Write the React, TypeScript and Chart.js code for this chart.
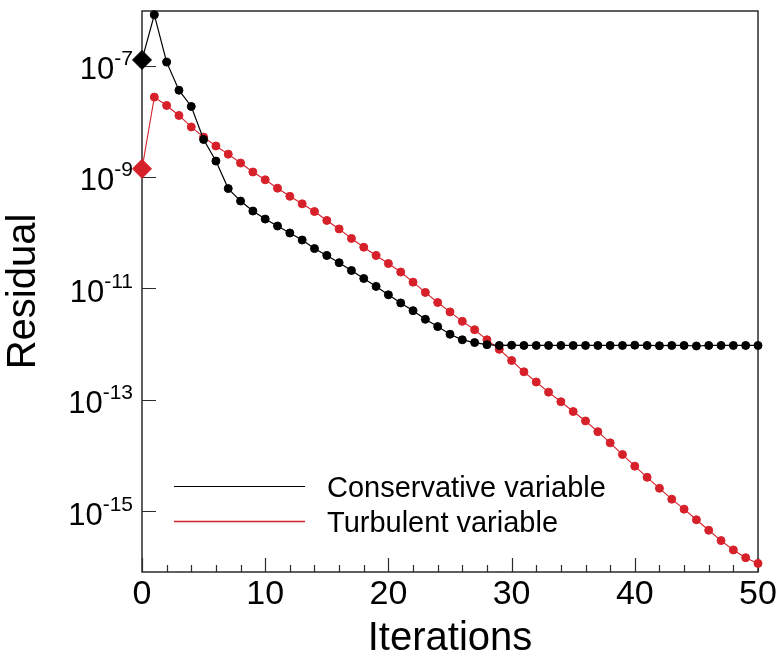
import React, { useEffect, useRef } from 'react';
import { Chart, registerables } from 'chart.js';

Chart.register(...registerables);

// ---- data ----
const iterations = [
  0, 1, 2, 3, 4, 5, 6, 7, 8, 9, 10, 11, 12, 13, 14, 15, 16, 17, 18, 19, 20,
  21, 22, 23, 24, 25, 26, 27, 28, 29, 30, 31, 32, 33, 34, 35, 36, 37, 38, 39, 40,
  41, 42, 43, 44, 45, 46, 47, 48, 49, 50,
];

const conservative = [
  1.26e-7, 8.1e-7, 1.15e-7, 3.6e-8, 1.84e-8, 4.7e-9, 1.93e-9, 6.2e-10, 3.7e-10, 2.45e-10,
  1.76e-10, 1.32e-10, 9.9e-11, 7.4e-11, 5.2e-11, 3.9e-11, 2.9e-11, 2.1e-11, 1.51e-11, 1.09e-11,
  7.7e-12, 5.5e-12, 4.0e-12, 2.8e-12, 2.07e-12, 1.51e-12, 1.2e-12, 1.07e-12, 9.8e-13,
  9.5e-13, 9.6e-13, 9.5e-13, 9.5e-13, 9.5e-13, 9.5e-13, 9.5e-13, 9.5e-13, 9.5e-13, 9.5e-13,
  9.5e-13, 9.6e-13, 9.5e-13, 9.4e-13, 9.5e-13, 9.5e-13, 9.3e-13, 9.5e-13, 9.5e-13, 9.5e-13,
  9.5e-13, 9.5e-13,
];

const turbulent = [
  1.4e-9, 2.71e-8, 1.92e-8, 1.27e-8, 7.9e-9, 5.2e-9, 3.6e-9, 2.57e-9, 1.78e-9, 1.23e-9,
  8.9e-10, 6.3e-10, 4.5e-10, 3.3e-10, 2.4e-10, 1.66e-10, 1.17e-10, 7.9e-11, 5.5e-11, 3.9e-11,
  2.8e-11, 1.97e-11, 1.3e-11, 8.5e-12, 5.6e-12, 3.8e-12, 2.57e-12, 1.82e-12, 1.2e-12, 8.1e-13,
  5.1e-13, 3.2e-13, 2.1e-13, 1.38e-13, 9.3e-14, 6.2e-14, 4.2e-14, 2.7e-14, 1.7e-14, 1.05e-14,
  6.5e-15, 4.1e-15, 2.6e-15, 1.66e-15, 1.1e-15, 7.1e-16, 4.6e-16, 3.0e-16, 2.04e-16, 1.48e-16,
  1.17e-16,
];

const seriesLabels = ['Conservative variable', 'Turbulent variable'];
const xMajorTicks = [0, 10, 20, 30, 40, 50];
const xMinorTicks = [2, 4, 6, 8, 12, 14, 16, 18, 22, 24, 26, 28, 32, 34, 36, 38, 42, 44, 46, 48];
const yTicks = [1e-7, 1e-9, 1e-11, 1e-13, 1e-15];
const xTitle = 'Iterations';
const yTitle = 'Residual';

// ---- style ----
const W = 779;
const H = 656;
const FONT = '"Liberation Sans", Arial, Helvetica, sans-serif';
const BLACK = '#000000';
const RED = '#d7212a';
const FRAME = '#2b2b2b';

const toPoints = (vals: number[]) => vals.map((v, i) => ({ x: iterations[i], y: v }));
const pointStyles = (vals: number[]) => vals.map((_, i) => (i === 0 ? 'rectRot' : 'circle'));
const pointRadii = (vals: number[]) => vals.map((_, i) => (i === 0 ? 9.5 : 4));

const decorPlugin = {
  id: 'decor',
  beforeDatasetsDraw(chart: any) {
    const { ctx, chartArea: a, scales } = chart;
    const xs = scales.x;
    const ys = scales.y;
    ctx.save();
    // frame
    ctx.strokeStyle = FRAME;
    ctx.lineWidth = 1.5;
    ctx.strokeRect(a.left, a.top, a.right - a.left, a.bottom - a.top);
    // ticks (inward)
    ctx.lineWidth = 1.2;
    ctx.beginPath();
    xMajorTicks.forEach((v) => {
      const px = Math.round(xs.getPixelForValue(v)) + 0.5;
      ctx.moveTo(px, a.bottom);
      ctx.lineTo(px, a.bottom - 14);
    });
    xMinorTicks.forEach((v) => {
      const px = Math.round(xs.getPixelForValue(v)) + 0.5;
      ctx.moveTo(px, a.bottom);
      ctx.lineTo(px, a.bottom - 7);
    });
    yTicks.forEach((v) => {
      const py = Math.round(ys.getPixelForValue(v)) + 0.5;
      ctx.moveTo(a.left, py);
      ctx.lineTo(a.left + 14, py);
    });
    ctx.stroke();
    // y tick labels: 10 with superscript exponent
    ctx.fillStyle = BLACK;
    ctx.textAlign = 'right';
    ctx.textBaseline = 'alphabetic';
    const rightX = a.left - 9;
    yTicks.forEach((v) => {
      const py = ys.getPixelForValue(v);
      const exp = String(Math.round(Math.log10(v)));
      ctx.font = `21px ${FONT}`;
      const ew = ctx.measureText(exp).width;
      ctx.fillText(exp, rightX, py - 0.5);
      ctx.font = `31px ${FONT}`;
      ctx.fillText('10', rightX - ew, py + 13.5);
    });
    ctx.restore();
  },
  afterDraw(chart: any) {
    const { ctx } = chart;
    ctx.save();
    const lineX0 = 174;
    const lineX1 = 305;
    const textX = 327;
    const y0 = 486;
    const dy = 35;
    chart.data.datasets.forEach((ds: any, i: number) => {
      const y = y0 + i * dy;
      ctx.strokeStyle = ds.borderColor;
      ctx.lineWidth = i === 0 ? 1 : 1.5;
      ctx.beginPath();
      ctx.moveTo(lineX0, y + 0.5);
      ctx.lineTo(lineX1, y + 0.5);
      ctx.stroke();
      ctx.fillStyle = BLACK;
      ctx.font = `29px ${FONT}`;
      ctx.textAlign = 'left';
      ctx.textBaseline = 'alphabetic';
      ctx.fillText(ds.label, textX, y + 10.5);
    });
    ctx.restore();
  },
};

export default function App() {
  const ref = useRef<HTMLCanvasElement>(null);

  useEffect(() => {
    if (!ref.current) return;
    Chart.defaults.font.family = FONT;
    const chart = new Chart(ref.current, {
      type: 'line',
      data: {
        datasets: [
          {
            label: seriesLabels[0],
            data: toPoints(conservative),
            borderColor: BLACK,
            backgroundColor: BLACK,
            borderWidth: 1.2,
            pointStyle: pointStyles(conservative) as any,
            pointRadius: pointRadii(conservative),
            pointBorderWidth: 1,
            pointBackgroundColor: BLACK,
            pointBorderColor: BLACK,
            clip: false as any,
            tension: 0,
          },
          {
            label: seriesLabels[1],
            data: toPoints(turbulent),
            borderColor: RED,
            backgroundColor: RED,
            borderWidth: 1.1,
            pointStyle: pointStyles(turbulent) as any,
            pointRadius: pointRadii(turbulent),
            pointBorderWidth: 1,
            pointBackgroundColor: RED,
            pointBorderColor: RED,
            clip: false as any,
            tension: 0,
          },
        ],
      },
      options: {
        responsive: false,
        animation: false,
        layout: { padding: { left: 0, right: 21, top: 11, bottom: 0 } },
        plugins: {
          legend: { display: false },
          tooltip: { enabled: false },
        },
        scales: {
          x: {
            type: 'linear',
            min: 0,
            max: 50,
            afterBuildTicks: (s: any) => {
              s.ticks = xMajorTicks.map((v) => ({ value: v }));
            },
            afterFit: (s: any) => {
              s.height = 84;
            },
            grid: { display: false, drawTicks: false },
            border: { display: false },
            ticks: {
              color: BLACK,
              font: { size: 34, family: FONT },
              padding: 2,
              maxRotation: 0,
              autoSkip: false,
            },
            title: {
              display: true,
              text: xTitle,
              color: BLACK,
              font: { size: 40, family: FONT },
              padding: { top: 0, bottom: -7 },
            },
          },
          y: {
            type: 'logarithmic',
            min: 8.2e-17,
            max: 9.5e-7,
            afterBuildTicks: (s: any) => {
              s.ticks = yTicks.map((v) => ({ value: v }));
            },
            afterFit: (s: any) => {
              s.width = 142;
            },
            grid: { display: false, drawTicks: false },
            border: { display: false },
            ticks: { display: false },
            title: {
              display: true,
              text: yTitle,
              color: BLACK,
              font: { size: 40, family: FONT },
              padding: { top: 0, bottom: 0 },
            },
          },
        },
      },
      plugins: [decorPlugin],
    });
    return () => chart.destroy();
  }, []);

  return (
    <div style={{ position: 'fixed', left: 0, top: 0, width: W, height: H, background: '#ffffff' }}>
      <canvas ref={ref} width={W} height={H} style={{ display: 'block' }} />
    </div>
  );
}
